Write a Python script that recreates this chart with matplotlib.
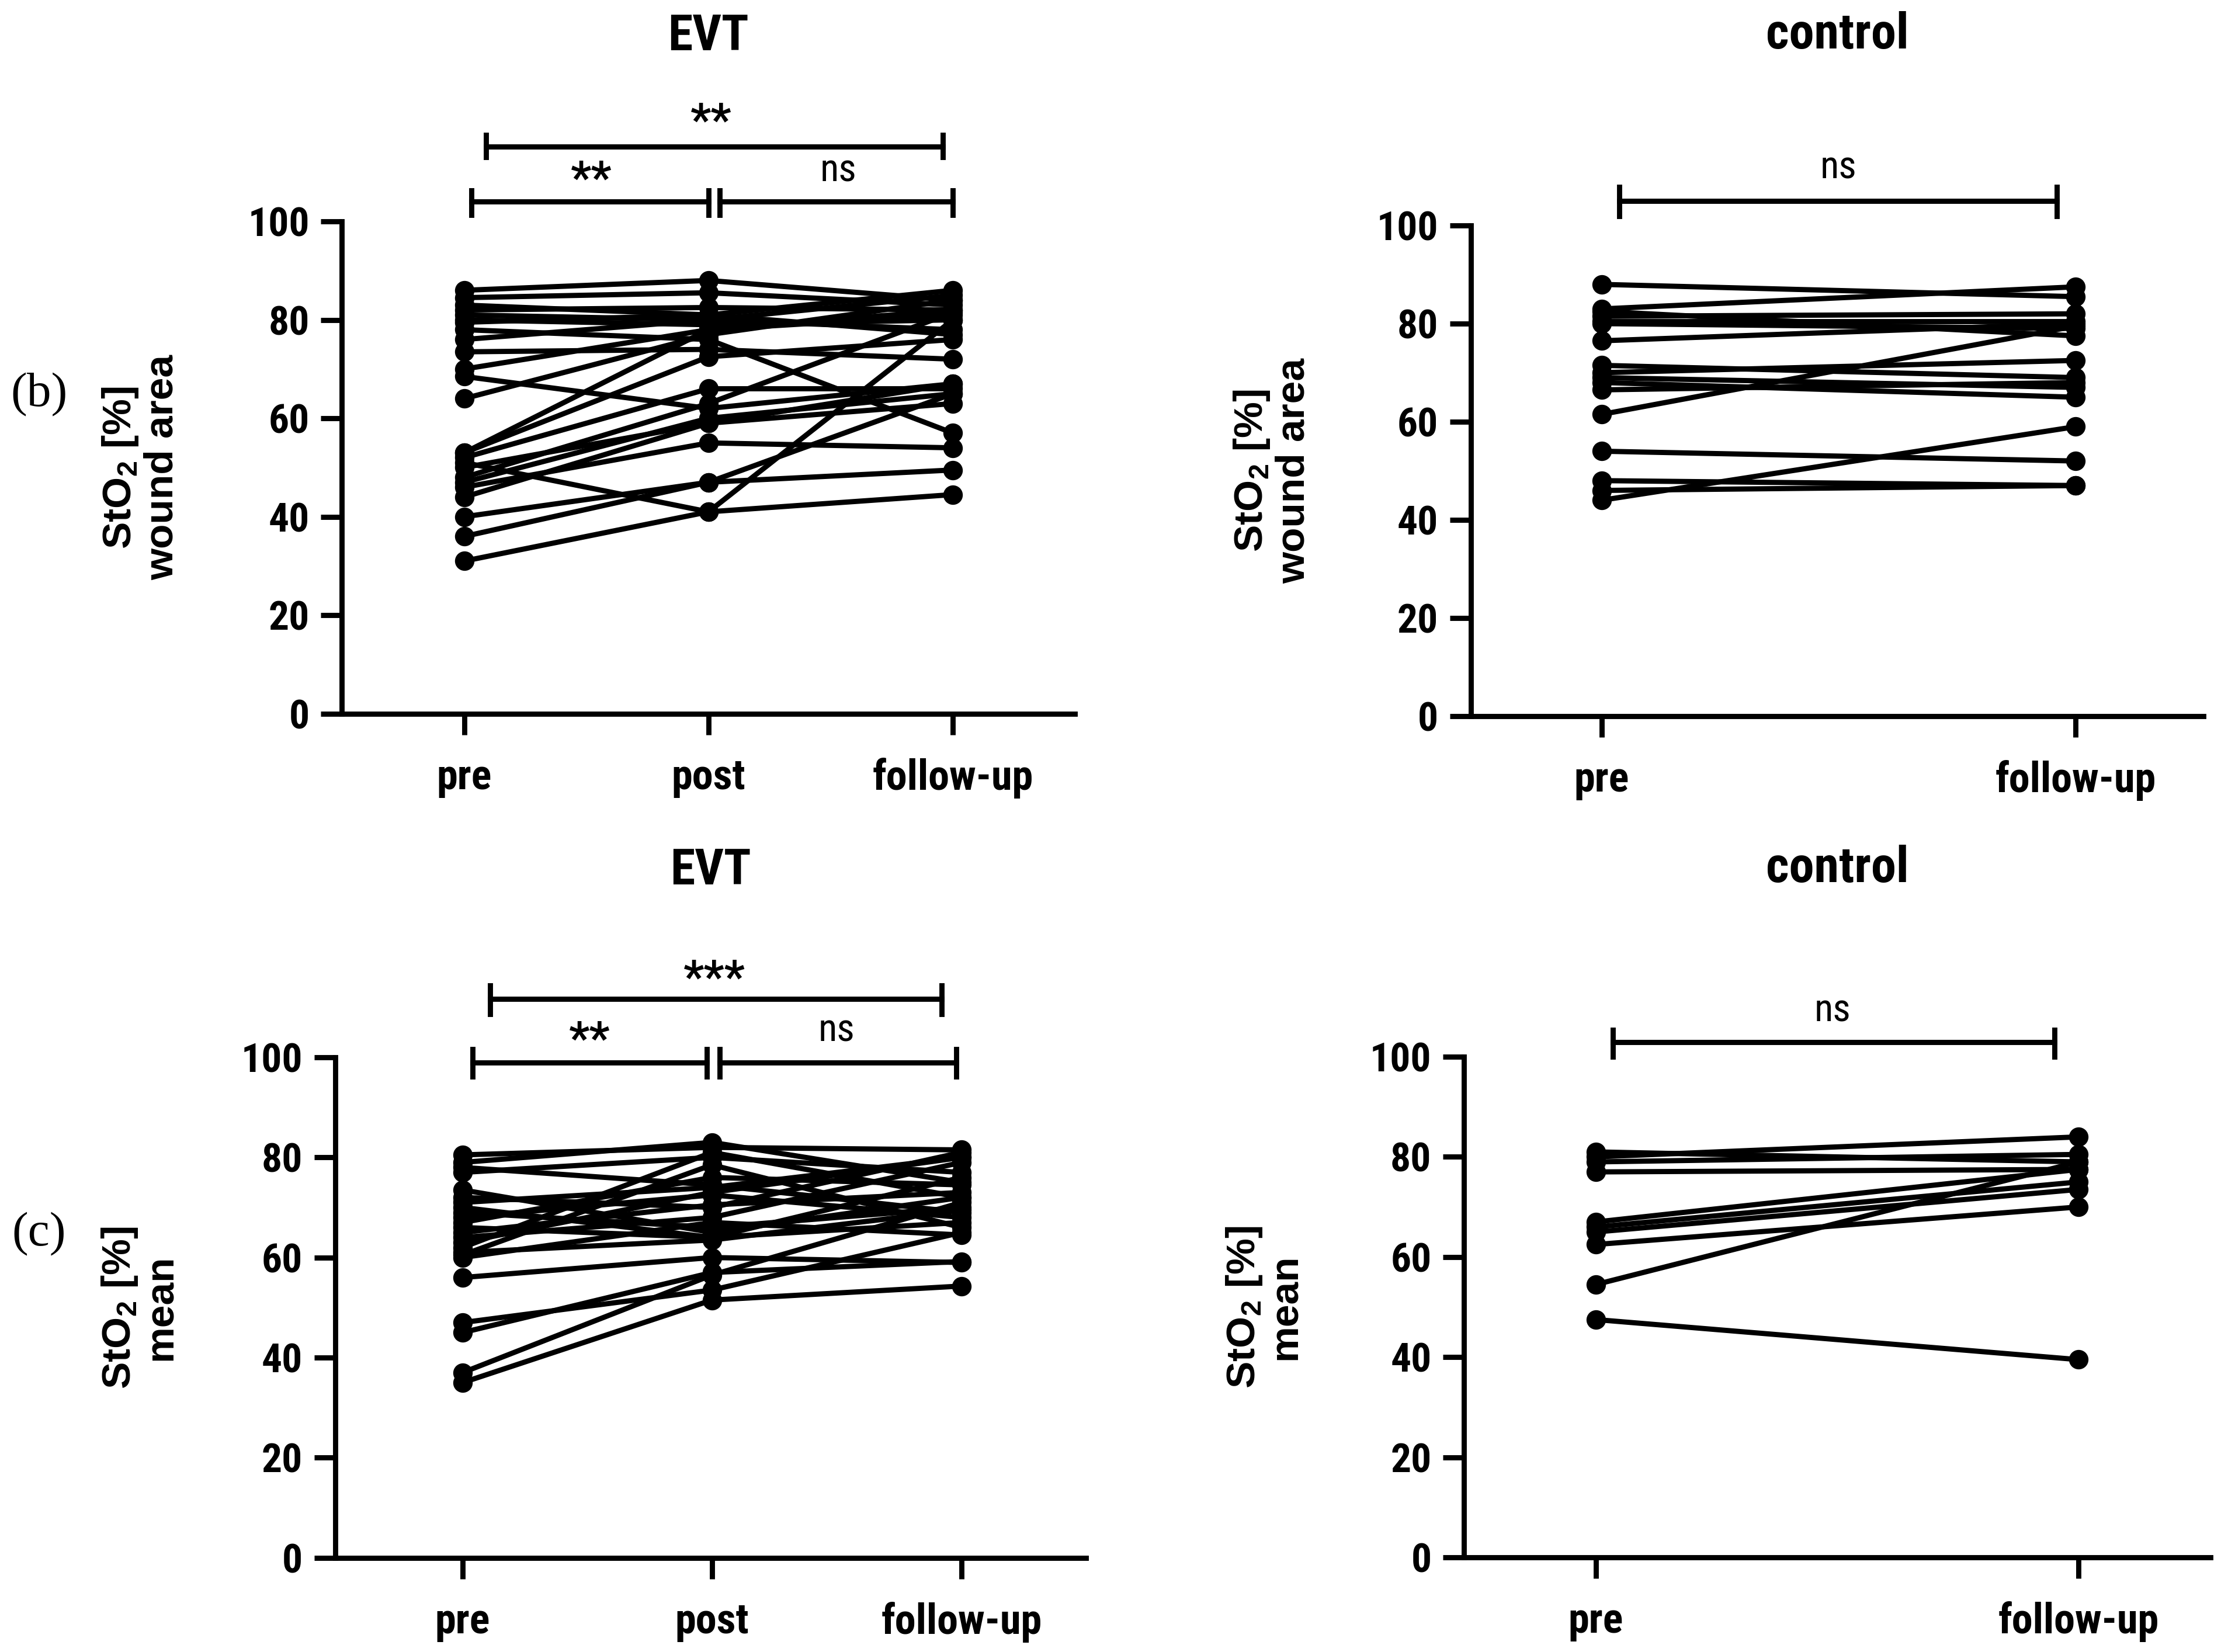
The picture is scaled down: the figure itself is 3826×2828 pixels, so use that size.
import matplotlib
matplotlib.use("Agg")
import matplotlib.pyplot as plt
from matplotlib import font_manager
from matplotlib.font_manager import FontProperties

# StO2 wound area, EVT group (pre, post, follow-up per patient)
evt_wound_pre = [86, 84.5, 83, 82, 81, 80, 78, 76, 73.5, 70, 68.5, 64, 53, 52,
                 51, 50, 48, 47, 46, 44, 40, 36, 31, 53, 79.5]
evt_wound_post = [88, 85.5, 81, 82.5, 80, 79, 76, 80, 74, 78, 62, 77, 78, 66,
                  41, 59, 63, 60, 55, 59, 47, 47, 41, 72.5, 81]
evt_wound_fu = [84, 83, 86, 82, 85, 80, 57, 78, 72, 81, 67, 84, 82, 66,
                80, 63, 81.5, 65, 54, 67, 49.5, 65, 44.5, 76, 77]

# StO2 wound area, control group
ctrl_wound_pre = [88, 83, 82.5, 81.5, 80.5, 80, 76.5, 71.5, 70, 69, 68, 66.5,
                  61.5, 54, 48, 46, 44]
ctrl_wound_fu = [85.5, 87.5, 77.5, 82, 80.5, 79, 80, 69, 72.5, 67, 65, 68,
                 79.5, 52, 47, 47, 59]

# StO2 mean, EVT group
evt_mean_pre = [80.5, 79, 77, 73.5, 71, 69, 68, 67, 66, 65, 64, 62, 61, 60.5,
                56, 47, 45, 37, 35, 70, 63, 60, 78, 72]
evt_mean_post = [82, 83, 80, 65, 74, 66, 72.5, 76, 64, 70.5, 68, 81, 63.5, 78.5,
                 60, 53.5, 57, 56.5, 51.5, 64, 73, 67, 74.5, 70]
evt_mean_fu = [81.5, 75, 77, 72, 80, 70, 68, 74.5, 67, 73, 79, 72, 69.5, 66,
               59, 65, 59.2, 71, 54.3, 76, 80, 64.5, 69, 81]

# StO2 mean, control group
ctrl_mean_pre = [80, 81, 79, 77, 67, 66, 65, 62.5, 54.5, 47.5]
ctrl_mean_fu = [84, 79, 80.5, 77.5, 77.5, 75, 73.5, 70, 79, 39.5]

evt_labels = ["pre", "post", "follow-up"]
ctrl_labels = ["pre", "follow-up"]
yticks = [0, 20, 40, 60, 80, 100]

plt.rcParams["font.family"] = ["Liberation Sans", "DejaVu Sans"]
plt.rcParams["mathtext.fontset"] = "custom"
plt.rcParams["mathtext.rm"] = "Liberation Sans"
plt.rcParams["mathtext.bf"] = "Liberation Sans:bold"


def find_narrow(bold):
    # look for a narrow / condensed sans face, Prism-like labels
    best = None
    for f in font_manager.fontManager.ttflist:
        narrowish = ("Narrow" in f.name or "Condensed" in f.name
                     or f.stretch in ("condensed", "semi-condensed"))
        if not narrowish or f.style != "normal" or "Serif" in f.name or "Mono" in f.name:
            continue
        w = f.weight if isinstance(f.weight, int) else {"bold": 700, "normal": 400, "regular": 400}.get(f.weight, 400)
        if (w >= 600) != bold:
            continue
        score = 0 if "Liberation" in f.name else (1 if "Roboto" in f.name else 2)
        if best is None or score < best[0]:
            best = (score, f.fname)
    if best:
        return FontProperties(fname=best[1])
    return FontProperties(family="Liberation Sans", weight="bold" if bold else "normal")


fp_bold = find_narrow(True)
fp_reg = find_narrow(False)
condensed = fp_bold.get_file() is not None
TICK_SIZE = 25 if condensed else 23

LW = 3.2


def paired(ax, cols, labels, xlim, ylabel, label_x):
    xs = list(range(len(cols)))
    for vals in zip(*cols):
        ax.plot(xs, vals, "-o", color="black", lw=LW, ms=11, clip_on=False)
    ax.set_xlim(*xlim)
    ax.set_ylim(0, 100)
    ax.set_yticks(yticks)
    ax.set_xticks(xs)
    ax.set_xticklabels(labels)
    for s in ["top", "right"]:
        ax.spines[s].set_visible(False)
    for s in ["left", "bottom"]:
        ax.spines[s].set_linewidth(LW)
    ax.tick_params(axis="both", length=13, width=LW, pad=7)
    ax.tick_params(axis="x", pad=14)
    for t in ax.get_xticklabels() + ax.get_yticklabels():
        t.set_fontproperties(fp_bold)
        t.set_fontsize(TICK_SIZE + (1 if t in ax.get_xticklabels() else 0))
    ax.set_ylabel(ylabel, fontsize=25, fontweight="bold", linespacing=1.1)
    ax.yaxis.set_label_coords(label_x, 0.5)


def bracket(ax, x0, x1, y, cap_lo, cap_hi):
    ax.plot([x0, x1], [y, y], color="black", lw=LW, clip_on=False)
    ax.plot([x0, x0], [cap_lo, cap_hi], color="black", lw=LW, clip_on=False)
    ax.plot([x1, x1], [cap_lo, cap_hi], color="black", lw=LW, clip_on=False)


def star(ax, x, y, s):
    if s == "ns":
        ax.text(x, y, s, ha="center", va="center", fontproperties=fp_reg,
                fontsize=TICK_SIZE - 1)
    else:
        ax.text(x, y, s, ha="center", va="center", fontproperties=fp_bold,
                fontsize=28)


fig = plt.figure(figsize=(19.13, 14.14), dpi=200)

ax1 = fig.add_axes([0.153, 0.568, 0.328, 0.298])
paired(ax1, [evt_wound_pre, evt_wound_post, evt_wound_fu], evt_labels,
       (-0.5, 2.5), "StO$_\\mathbf{2}$ [%]\nwound area", -0.22)
bracket(ax1, 0.03, 1.0, 104, 101.3, 106.3)
bracket(ax1, 1.045, 2.0, 104, 101.3, 106.3)
bracket(ax1, 0.09, 1.96, 115.2, 113, 117.6)
star(ax1, 0.52, 108.3, "**")
star(ax1, 1.53, 110.3, "ns")
star(ax1, 1.01, 120.0, "**")

ax2 = fig.add_axes([0.658, 0.5665, 0.328, 0.297])
paired(ax2, [ctrl_wound_pre, ctrl_wound_fu], ctrl_labels,
       (-0.276, 1.27), "StO$_\\mathbf{2}$ [%]\nwound area", -0.216)
bracket(ax2, 0.037, 0.96, 105, 101.9, 107.9)
star(ax2, 0.5, 111.7, "ns")

ax3 = fig.add_axes([0.150, 0.057, 0.336, 0.303])
paired(ax3, [evt_mean_pre, evt_mean_post, evt_mean_fu], evt_labels,
       (-0.51, 2.5), "StO$_\\mathbf{2}$ [%]\nmean", -0.207)
bracket(ax3, 0.04, 0.98, 98.9, 96.1, 101.6)
bracket(ax3, 1.03, 1.98, 98.9, 96.1, 101.6)
bracket(ax3, 0.11, 1.92, 111.7, 108.6, 114.3)
star(ax3, 0.51, 103.2, "**")
star(ax3, 1.5, 105.3, "ns")
star(ax3, 1.01, 115.5, "***")

ax4 = fig.add_axes([0.655, 0.0573, 0.334, 0.303])
paired(ax4, [ctrl_mean_pre, ctrl_mean_fu], ctrl_labels,
       (-0.273, 1.273), "StO$_\\mathbf{2}$ [%]\nmean", -0.214)
bracket(ax4, 0.036, 0.95, 102.9, 100, 105.4)
star(ax4, 0.49, 109.2, "ns")

for ax, name, y in [(ax1, "EVT", 0.978), (ax2, "control", 0.979),
                    (ax3, "EVT", 0.473), (ax4, "control", 0.4745)]:
    pos = ax.get_position()
    fig.text(pos.x0 + pos.width / 2, y, name, ha="center", va="center",
             fontproperties=fp_bold, fontsize=31)

fig.text(0.0175, 0.761, "(b)", ha="center", va="center", fontsize=30,
         family=["Liberation Serif", "DejaVu Serif"])
fig.text(0.0175, 0.253, "(c)", ha="center", va="center", fontsize=30,
         family=["Liberation Serif", "DejaVu Serif"])

fig.savefig("out.png", dpi=200)
